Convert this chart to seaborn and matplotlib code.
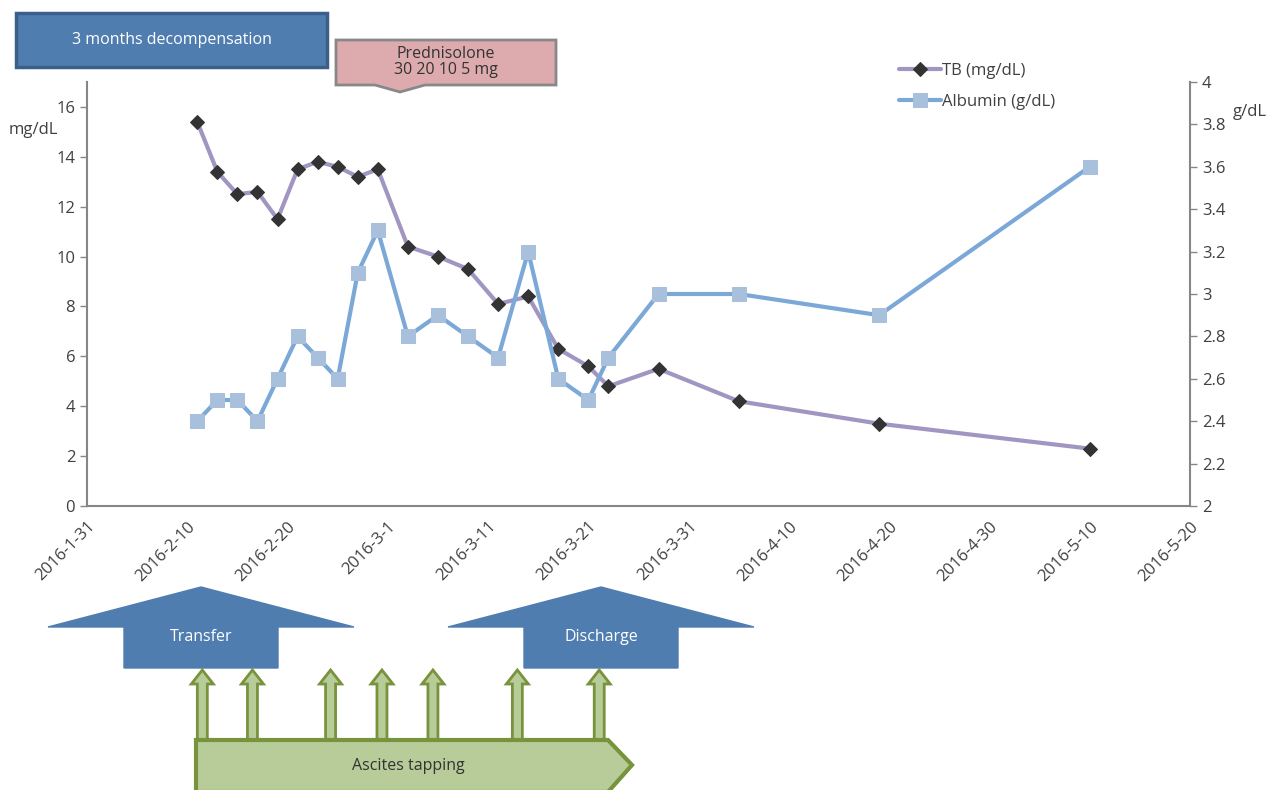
import pandas as pd
import matplotlib.pyplot as plt
from matplotlib.patches import Polygon
import seaborn as sns

# dates of the measurements (2016)
dates = ['2016-02-11', '2016-02-13', '2016-02-15', '2016-02-17', '2016-02-19',
         '2016-02-21', '2016-02-23', '2016-02-25', '2016-02-27', '2016-02-29',
         '2016-03-03', '2016-03-06', '2016-03-09', '2016-03-12', '2016-03-15',
         '2016-03-18', '2016-03-21', '2016-03-23', '2016-03-28', '2016-04-05',
         '2016-04-19', '2016-05-10']
tb = [15.4, 13.4, 12.5, 12.6, 11.5, 13.5, 13.8, 13.6, 13.2, 13.5, 10.4, 10.0,
      9.5, 8.1, 8.4, 6.3, 5.6, 4.8, 5.5, 4.2, 3.3, 2.3]
albumin = [2.4, 2.5, 2.5, 2.4, 2.6, 2.8, 2.7, 2.6, 3.1, 3.3, 2.8, 2.9,
           2.8, 2.7, 3.2, 2.6, 2.5, 2.7, 3.0, 3.0, 2.9, 3.6]
# days where ascites tapping was done (the small arrows)
tapping_dates = ['2016-02-11 12:00', '2016-02-16 12:00', '2016-02-24 07:00',
                 '2016-02-29 10:00', '2016-03-05 12:00', '2016-03-13 22:00',
                 '2016-03-22 02:00']

df = pd.DataFrame({'date': pd.to_datetime(dates), 'TB': tb, 'Albumin': albumin})

W, H = 1268, 790
sns.set_style('white')
plt.rcParams['font.family'] = ['Open Sans', 'DejaVu Sans']
fig = plt.figure(figsize=(W / 100, H / 100), dpi=100)
ax = fig.add_axes([87 / W, 1 - 506 / H, (1190 - 87) / W, (506 - 82) / H])
ax2 = ax.twinx()

gray = '#868686'
txt = '#404040'
sns.lineplot(data=df, x='date', y='TB', ax=ax, color='#A196C2', linewidth=3,
             marker='D', markersize=7, markerfacecolor='#333333',
             markeredgecolor='#333333', label='TB (mg/dL)', legend=False)
sns.lineplot(data=df, x='date', y='Albumin', ax=ax2, color='#7CA8D8', linewidth=3,
             marker='s', markersize=10, markerfacecolor='#A8C0DC',
             markeredgecolor='#A8C0DC', label='Albumin (g/dL)', legend=False)

ax.set_ylim(0, 17)
ax.set_yticks(range(0, 17, 2))
ax2.set_ylim(2, 4)
ax2.set_yticks([2 + 0.2 * i for i in range(11)])
ax2.set_yticklabels(['2', '2.2', '2.4', '2.6', '2.8', '3', '3.2', '3.4', '3.6', '3.8', '4'])

ticks = pd.date_range('2016-01-31', '2016-05-20', freq='10D')
ax.set_xlim(ticks[0], ticks[-1])
ax.set_xticks(ticks)
ax.set_xticklabels([f'{d.year}-{d.month}-{d.day}' for d in ticks], rotation=45,
                   ha='right', rotation_mode='anchor')
ax.set_xlabel('')
ax.set_ylabel('')
ax2.set_ylabel('')

for a in (ax, ax2):
    for s in a.spines.values():
        s.set_visible(False)
    a.tick_params(colors=gray, labelcolor=txt, labelsize=12, length=5, width=1)
ax.spines['left'].set_visible(True)
ax.spines['bottom'].set_visible(True)
ax2.spines['right'].set_visible(True)
for s in (ax.spines['left'], ax.spines['bottom'], ax2.spines['right']):
    s.set_color(gray)
    s.set_linewidth(1.5)
ax.tick_params(axis='x', pad=4)
ax.tick_params(axis='y', left=True)
ax2.tick_params(axis='y', right=True)

fig.text(33 / W, 1 - 130 / H, 'mg/dL', ha='center', va='center', fontsize=12, color=txt)
fig.text(1250 / W, 1 - 112 / H, 'g/dL', ha='center', va='center', fontsize=12, color=txt)

h1, l1 = ax.get_legend_handles_labels()
h2, l2 = ax2.get_legend_handles_labels()
fig.legend(h1 + h2, l1 + l2, loc='upper left', bbox_to_anchor=(884 / W, 1 - 48 / H),
           frameon=False, fontsize=12, handlelength=2.5, handletextpad=0.1,
           labelspacing=0.9, labelcolor=txt)


def P(x, y):
    return (x / W, 1 - y / H)


def poly(pts, fc, ec, lw=1.5):
    fig.add_artist(Polygon([P(x, y) for x, y in pts], closed=True, facecolor=fc,
                           edgecolor=ec, linewidth=lw, transform=fig.transFigure,
                           clip_on=False))


# top boxes
poly([(16, 13), (327, 13), (327, 67), (16, 67)], '#4F7DB0', '#3B5F8A', 2.5)
fig.text(*P(172, 40), '3 months decompensation', ha='center', va='center',
         color='white', fontsize=11.5)
poly([(336, 40), (556, 40), (556, 85), (425, 85), (400, 92), (375, 85), (336, 85)],
     '#DDABAE', '#888888', 2)
fig.text(*P(446, 62), 'Prednisolone\n30 20 10 5 mg', ha='center', va='center',
         color='#333333', fontsize=11.5, linespacing=1.05)


# bottom block arrows
def block_arrow(cx, label):
    poly([(cx - 153, 627), (cx, 587), (cx + 153, 627), (cx + 77, 627), (cx + 77, 668),
          (cx - 77, 668), (cx - 77, 627)], '#4F7DB0', '#4F7DB0', 1)
    fig.text(*P(cx, 637), label, ha='center', va='center', color='white', fontsize=11.5)


block_arrow(201, 'Transfer')
block_arrow(601, 'Discharge')

# ascites tapping arrows
x0 = pd.Timestamp('2016-01-31')
for d in tapping_dates:
    cx = 87 + (pd.Timestamp(d) - x0) / pd.Timedelta(days=1) * (1103 / 110)
    poly([(cx - 5, 742), (cx - 5, 684), (cx - 11, 684), (cx, 670), (cx + 11, 684),
          (cx + 5, 684), (cx + 5, 742)], '#B8CC9A', '#77933C', 2)

poly([(196, 740), (608, 740), (632, 765), (608, 792), (196, 792)], '#B8CC9A', '#77933C', 3)
fig.text(*P(408, 766), 'Ascites tapping', ha='center', va='center', color='#333333', fontsize=11.5)

fig.savefig('out.png', dpi=100)
